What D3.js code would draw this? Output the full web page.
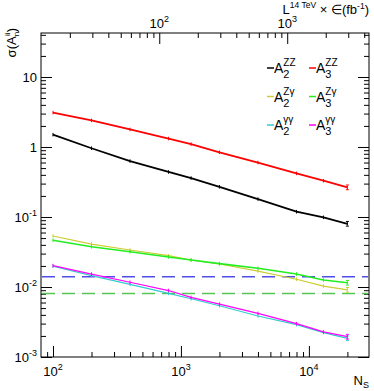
<!DOCTYPE html>
<html>
<head>
<meta charset="utf-8">
<script src="https://cdn.jsdelivr.net/npm/d3@7"></script>
<style>
  body { margin: 0; background: #fff; }
  svg { font-family: "Liberation Sans", Arial, sans-serif; }
</style>
</head>
<body>
<div id="chart"></div>
<script>
// number of signal events, shared by all curves
var nS = [100, 200, 400, 800, 1200, 2000, 4000, 8000, 13000, 20000];

var a2ZZ = [1.5, 0.96, 0.63, 0.44, 0.36, 0.27, 0.18, 0.119, 0.099, 0.080];
var a3ZZ = [3.1, 2.4, 1.78, 1.32, 1.10, 0.84, 0.60, 0.42, 0.33, 0.265];
var a2Zg = [0.0535, 0.041, 0.0338, 0.028, 0.0243, 0.0213, 0.0169, 0.0129, 0.0103, 0.0091];
var a3Zg = [0.0465, 0.0376, 0.0319, 0.0268, 0.0243, 0.0216, 0.0185, 0.0153, 0.0126, 0.0115];
var a2gg = [0.0198, 0.0145, 0.0109, 0.0081, 0.0068, 0.0054, 0.00385, 0.0029, 0.00223, 0.00185];
var a3gg = [0.0202, 0.0153, 0.0117, 0.0089, 0.0071, 0.0057, 0.0042, 0.0030, 0.00228, 0.00195];

// horizontal reference levels (dashed)
var refLevels = [0.014, 0.0081];
var refColors = ["#4f4fe8", "#55c655"];

var seriesNames = ["ZZ", "ZZ", "Z\u03b3", "Z\u03b3", "\u03b3\u03b3", "\u03b3\u03b3"];
var seriesIdx = ["2", "3", "2", "3", "2", "3"];
var seriesColors = ["#000000", "#ff0000", "#cccc33", "#22ee22", "#33cccc", "#ff00ff"];
var seriesValues = [a2ZZ, a3ZZ, a2Zg, a3Zg, a2gg, a3gg];

// luminosity factor between top and bottom axis
var lumiFactor = 6.77;

var yMajor = [1e-3, 1e-2, 1e-1, 1, 10];
var yLabels = [["10", "-3"], ["10", "-2"], ["10", "-1"], ["1", ""], ["10", ""]];
var xMajor = [100, 1000, 10000];
var xLabels = [["10", "2"], ["10", "3"], ["10", "4"]];
var topMajor = [100, 1000];
var topLabels = [["10", "2"], ["10", "3"]];

var width = 374, height = 391;
var padLeft = 41, padRight = 369, padTop = 33, padBottom = 357;

var svg = d3.select("#chart").append("svg")
    .attr("width", width)
    .attr("height", height);

var x = d3.scaleLog().domain([80.6, 29500]).range([padLeft, padRight]);
var xTop = d3.scaleLog().domain([80.6 / lumiFactor, 29500 / lumiFactor]).range([padLeft, padRight]);
var y = d3.scaleLog().domain([1e-3, 42.5]).range([padBottom, padTop]);

function minorTicks(scale) {
    var d = scale.domain();
    var out = [];
    for (var e = Math.floor(Math.log10(d[0])); e <= Math.ceil(Math.log10(d[1])); e++) {
        for (var m = 2; m <= 9; m++) {
            var v = m * Math.pow(10, e);
            if (v > d[0] && v < d[1]) out.push(v);
        }
    }
    return out;
}

function tickAxis(axisFn, scale, values, size, transform) {
    var g = svg.append("g")
        .attr("transform", transform)
        .call(axisFn(scale).tickValues(values).tickSize(size).tickFormat(""));
    g.select(".domain").remove();
    g.selectAll("line").attr("stroke", "#000").attr("stroke-width", 1);
    return g;
}

// ticks pointing inward on all four sides
tickAxis(d3.axisBottom, x, xMajor, -11, "translate(0," + padBottom + ")");
tickAxis(d3.axisBottom, x, minorTicks(x), -5, "translate(0," + padBottom + ")");
tickAxis(d3.axisTop, xTop, topMajor, -11, "translate(0," + padTop + ")");
tickAxis(d3.axisTop, xTop, minorTicks(xTop), -5, "translate(0," + padTop + ")");
tickAxis(d3.axisLeft, y, yMajor, -11, "translate(" + padLeft + ",0)");
tickAxis(d3.axisLeft, y, minorTicks(y), -5, "translate(" + padLeft + ",0)");
tickAxis(d3.axisRight, y, yMajor, -11, "translate(" + padRight + ",0)");
tickAxis(d3.axisRight, y, minorTicks(y), -5, "translate(" + padRight + ",0)");

svg.append("rect")
    .attr("x", padLeft).attr("y", padTop)
    .attr("width", padRight - padLeft).attr("height", padBottom - padTop)
    .attr("fill", "none").attr("stroke", "#000").attr("stroke-width", 1);

function powText(sel, base, exp) {
    sel.append("tspan").text(base);
    if (exp) {
        sel.append("tspan").attr("dy", -6).attr("font-size", 9).text(exp);
    }
}

// y tick labels
yMajor.forEach(function(v, i) {
    var t = svg.append("text")
        .attr("x", 37)
        .attr("y", y(v) + 5)
        .attr("text-anchor", "end")
        .attr("font-size", 13);
    powText(t, yLabels[i][0], yLabels[i][1]);
});

// x tick labels
xMajor.forEach(function(v, i) {
    var t = svg.append("text")
        .attr("x", x(v))
        .attr("y", 376)
        .attr("text-anchor", "middle")
        .attr("font-size", 13);
    powText(t, xLabels[i][0], xLabels[i][1]);
});

topMajor.forEach(function(v, i) {
    var t = svg.append("text")
        .attr("x", xTop(v))
        .attr("y", 28)
        .attr("text-anchor", "middle")
        .attr("font-size", 13);
    powText(t, topLabels[i][0], topLabels[i][1]);
});

// axis titles
var nt = svg.append("text")
    .attr("x", 369).attr("y", 385)
    .attr("text-anchor", "end")
    .attr("font-size", 13);
nt.append("tspan").text("N");
nt.append("tspan").attr("dy", 3).attr("font-size", 9).text("S");

var lt = svg.append("text")
    .attr("x", 369).attr("y", 14)
    .attr("text-anchor", "end")
    .attr("font-size", 13);
lt.append("tspan").text("L");
lt.append("tspan").attr("dy", -6).attr("font-size", 8.5).text("14 TeV");
lt.append("tspan").attr("dy", 6).text(" \u00d7 \u2208(fb");
lt.append("tspan").attr("dy", -5).attr("font-size", 8.5).text("-1");
lt.append("tspan").attr("dy", 5).text(")");

var yt = svg.append("text")
    .attr("transform", "translate(16,28) rotate(-90)")
    .attr("text-anchor", "end")
    .attr("font-size", 13);
yt.append("tspan").text("\u03c3(A");
yt.append("tspan").attr("dy", 3).attr("font-size", 8).text("n");
yt.append("tspan").attr("dy", -9).attr("dx", -4).attr("font-size", 8).text("ii");
yt.append("tspan").attr("dy", 6).text(")");

// dashed reference levels
svg.selectAll("line.ref")
    .data(refLevels)
    .enter()
    .append("line")
    .attr("class", "ref")
    .attr("x1", padLeft + 1).attr("x2", padRight - 1)
    .attr("y1", (d) => y(d)).attr("y2", (d) => y(d))
    .attr("stroke", (d, i) => refColors[i])
    .attr("stroke-width", 1.5)
    .attr("stroke-dasharray", "13,7");

// curves
var line = d3.line()
    .x((d) => x(d.n))
    .y((d) => y(d.v));

seriesValues.forEach(function(vals, s) {
    var pts = nS.map(function(n, i) { return {n: n, v: vals[i]}; });
    var w = s < 2 ? 1.8 : (s === 3 ? 1.6 : 1.2);
    svg.append("path")
        .datum(pts)
        .attr("d", line)
        .attr("fill", "none")
        .attr("stroke", seriesColors[s])
        .attr("stroke-width", w);

    // small error bars
    svg.append("g").selectAll("line")
        .data(pts)
        .enter()
        .append("line")
        .attr("x1", (d) => x(d.n)).attr("x2", (d) => x(d.n))
        .attr("y1", (d) => y(d.v * 1.06)).attr("y2", (d) => y(d.v / 1.06))
        .attr("stroke", seriesColors[s])
        .attr("stroke-width", 1);

    var last = pts[pts.length - 1];
    [1.08, 1 / 1.08].forEach(function(f) {
        svg.append("line")
            .attr("x1", x(last.n) - 1.5).attr("x2", x(last.n) + 1.5)
            .attr("y1", y(last.v * f)).attr("y2", y(last.v * f))
            .attr("stroke", seriesColors[s])
            .attr("stroke-width", 1);
    });
});

// legend: 2 columns x 3 rows
seriesNames.forEach(function(name, s) {
    var col = s % 2, row = Math.floor(s / 2);
    var lx = col === 0 ? 267 : 309;
    var ly = 68 + row * 28.5;
    svg.append("line")
        .attr("x1", lx).attr("x2", lx + 7)
        .attr("y1", ly).attr("y2", ly)
        .attr("stroke", seriesColors[s])
        .attr("stroke-width", 1.5);
    var a = svg.append("text")
        .attr("x", lx + 7).attr("y", ly + 5)
        .attr("font-size", 14)
        .text("A");
    var aw = a.node().getComputedTextLength();
    svg.append("text")
        .attr("x", lx + 7 + aw).attr("y", ly + 10)
        .attr("font-size", 11)
        .text(seriesIdx[s]);
    svg.append("text")
        .attr("x", lx + 7 + aw).attr("y", ly - 2)
        .attr("font-size", 10)
        .text(name);
});
</script>
</body>
</html>
